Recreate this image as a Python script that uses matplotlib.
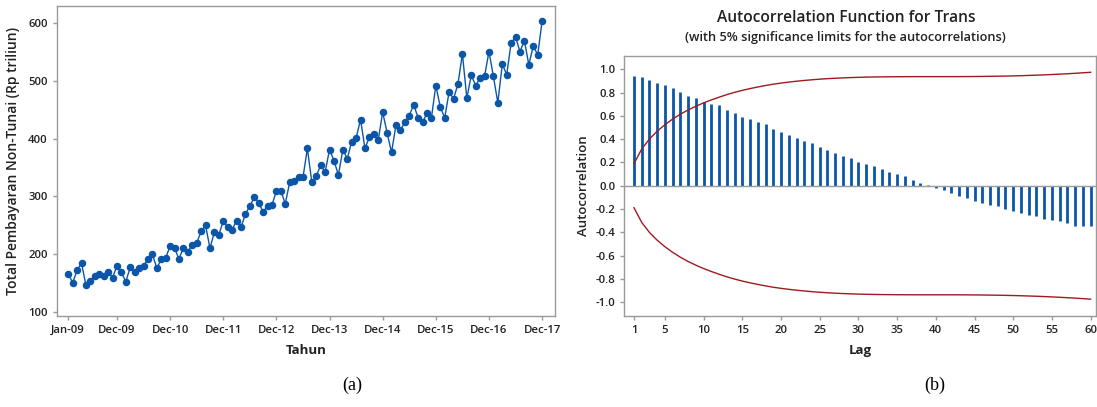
import numpy as np
import matplotlib
matplotlib.use("Agg")
import matplotlib.pyplot as plt

# ---------- DATA ----------
# monthly non-cash payments, Jan-2009 .. Dec-2017 (Rp trillion)
trans = [
    166, 150, 172, 184, 146, 154, 162, 166, 162, 169, 159, 179,
    168, 152, 177, 169, 175, 180, 191, 200, 175, 191, 193, 214,
    211, 191, 211, 204, 216, 219, 239, 250, 210, 238, 233, 257,
    246, 242, 258, 246, 269, 283, 298, 289, 273, 283, 285, 309,
    310, 287, 324, 326, 333, 333, 383, 324, 335, 354, 342, 381,
    362, 337, 381, 365, 395, 401, 433, 383, 403, 408, 398, 446,
    410, 376, 424, 415, 428, 440, 459, 436, 428, 444, 436, 492,
    455, 436, 481, 469, 495, 547, 470, 510, 492, 505, 508, 551,
    508, 462, 529, 511, 566, 576, 551, 570, 528, 561, 545, 604,
]
tick_pos = [0, 11, 23, 35, 47, 59, 71, 83, 95, 107]
tick_labels = ["Jan-09", "Dec-09", "Dec-10", "Dec-11", "Dec-12",
               "Dec-13", "Dec-14", "Dec-15", "Dec-16", "Dec-17"]

lags = list(range(1, 61))
acf = [
    0.946, 0.931, 0.905, 0.880, 0.865, 0.837, 0.802, 0.771, 0.754, 0.719,
    0.702, 0.693, 0.653, 0.628, 0.593, 0.570, 0.550, 0.527, 0.484, 0.458,
    0.435, 0.410, 0.384, 0.367, 0.335, 0.307, 0.283, 0.258, 0.241, 0.206,
    0.183, 0.166, 0.140, 0.115, 0.097, 0.080, 0.049, 0.023, 0.003, -0.023,
    -0.040, -0.066, -0.092, -0.109, -0.135, -0.149, -0.166, -0.178, -0.201, -0.218,
    -0.235, -0.252, -0.261, -0.287, -0.295, -0.304, -0.318, -0.344, -0.344, -0.344,
]
acf_ticks = [-1.0, -0.8, -0.6, -0.4, -0.2, 0.0, 0.2, 0.4, 0.6, 0.8, 1.0]

# 5% limits (Bartlett) from the acf values, as Minitab does
n_obs = len(trans)
r = np.array(acf)
cum = np.concatenate([[0.0], np.cumsum(r[:-1] ** 2)])
limit = 1.96 * np.sqrt((1 + 2 * cum) / n_obs)

# ---------- STYLE ----------
plt.rcParams["font.family"] = ["Open Sans", "DejaVu Sans"]
BLUE = "#0b56a8"
RED = "#9e1b1f"
GREY = "#9a9a9a"
TXT = "#222222"

fig = plt.figure(figsize=(10.97, 4.07), dpi=100)


def style_axes(ax):
    for s in ax.spines.values():
        s.set_color(GREY)
        s.set_linewidth(1.0)
    ax.tick_params(colors=GREY, labelcolor=TXT, length=3, width=1,
                   labelsize=8.2)
    for lab in ax.get_xticklabels() + ax.get_yticklabels():
        lab.set_fontweight("semibold")


# ---------- (a) time series ----------
ax1 = fig.add_axes([0.0517, 0.2236, 0.4542, 0.7617])
x = np.arange(len(trans))
ax1.plot(x, trans, color=BLUE, lw=1.0, marker="o", ms=4.4,
         mfc=BLUE, mec=BLUE)
ax1.set_xlim(-2.6, 109.9)
ax1.set_ylim(92.5, 630)
ax1.set_yticks([100, 200, 300, 400, 500, 600])
ax1.set_xticks(tick_pos)
ax1.set_xticklabels(tick_labels)
style_axes(ax1)
ax1.set_xlabel("Tahun", fontsize=9.5, fontweight="bold", color=TXT,
               labelpad=6)
ax1.set_ylabel("Total Pembayaran Non-Tunai (Rp triliun)", fontsize=10,
               fontweight="semibold", color=TXT, labelpad=6)

# ---------- (b) ACF ----------
ax2 = fig.add_axes([0.5691, 0.2243, 0.4300, 0.6388])
ax2.vlines(lags, 0, acf, color=BLUE, lw=2.0)
ax2.axhline(0, color=GREY, lw=1.0)
ax2.plot(lags, limit, color=RED, lw=1.0)
ax2.plot(lags, -limit, color=RED, lw=1.0)
ax2.set_xlim(-0.25, 60.7)
ax2.set_ylim(-1.116, 1.116)
ax2.set_xticks([1, 5, 10, 15, 20, 25, 30, 35, 40, 45, 50, 55, 60])
ax2.set_yticks(acf_ticks)
ax2.set_yticklabels([f"{v:.1f}" for v in acf_ticks])
style_axes(ax2)
ax2.set_xlabel("Lag", fontsize=9.5, fontweight="bold", color=TXT,
               labelpad=6)
ax2.set_ylabel("Autocorrelation", fontsize=9.5, fontweight="semibold",
               color=TXT, labelpad=4)

fig.text(0.771, 0.956, "Autocorrelation Function for Trans",
         ha="center", va="center", fontsize=11.2, fontweight="semibold",
         color=TXT)
fig.text(0.771, 0.909,
         "(with 5% significance limits for the autocorrelations)",
         ha="center", va="center", fontsize=9.2, fontweight="semibold",
         color=TXT)

# panel captions
fig.text(0.321, 0.054, "(a)", ha="center", va="center", fontsize=13,
         family=["Liberation Serif", "DejaVu Serif"])
fig.text(0.852, 0.054, "(b)", ha="center", va="center", fontsize=13,
         family=["Liberation Serif", "DejaVu Serif"])

fig.savefig("out.png", dpi=100)
